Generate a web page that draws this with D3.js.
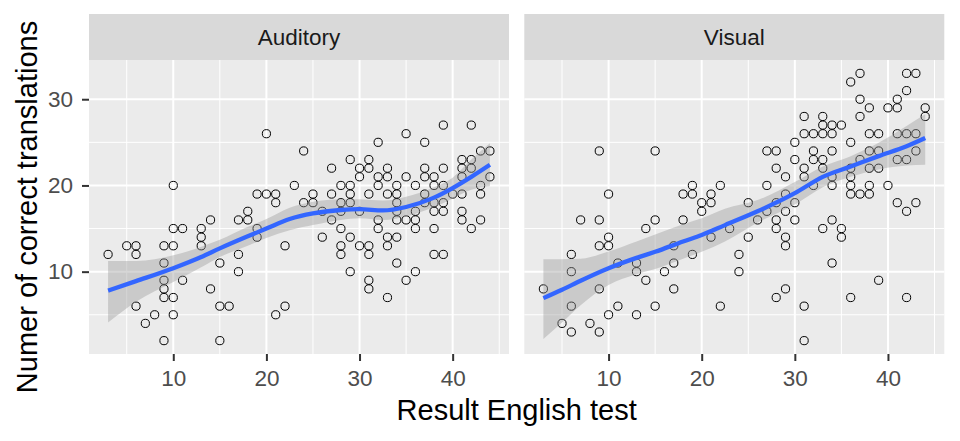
<!DOCTYPE html>
<html>
<head>
<meta charset="utf-8">
<script src="https://cdn.jsdelivr.net/npm/d3@7"></script>
<style>
  body { margin: 0; background: #fff; }
  svg { display: block; font-family: "Liberation Sans", Arial, sans-serif; }
</style>
</head>
<body>
<div id="chart"></div>
<script>
// Facet names and axis breaks
const facets = ['Auditory', 'Visual'];
const xTicks = [10, 20, 30, 40];
const xMinor = [5, 15, 25, 35, 45];
const yTicks = [10, 20, 30];
const yMinor = [5, 15, 25];

// [English test result, correct translations]
const auditoryPoints = [
  [3,12],[5,13],[6,13],[6,12],[9,13],[10,13],[10,15],[11,15],[13,15],[13,14],[13,13],[14,16],
  [17,16],[18,16],[18,17],[19,15],[19,14],[9,11],[9,9],[9,8],[9,7],[10,7],[11,9],[6,6],[8,5],
  [7,4],[10,5],[9,2],[15,2],[14,8],[15,11],[15,6],[16,6],[17,12],[17,10],[21,5],[22,6],[22,13],
  [20,26],[10,20],[19,19],[20,19],[21,19],[21,18],[23,20],
  [24,24],[32,25],[35,26],[37,25],[39,27],[42,27],[29,23],[31,23],[27,22],[30,22],[31,22],[33,22],
  [37,22],[39,22],[41,23],[42,23],[41,22],[42,22],[43,24],[44,24],[44,21],[30,21],[32,21],[33,21],
  [35,21],[37,21],[38,21],[41,21],[28,20],[29,20],[32,20],[34,20],[36,20],[38,20],[39,20],[43,20],
  [25,19],[27,19],[29,19],[31,19],[33,19],[34,19],[37,19],[40,19],[41,19],[43,19],
  [24,18],[25,18],[28,18],[29,18],[34,18],[37,18],[38,18],[39,18],
  [26,17],[28,17],[30,17],[34,17],[36,17],[38,17],[39,17],[41,17],
  [27,16],[32,16],[34,16],[35,16],[36,16],[41,16],[43,16],
  [28,15],[32,15],[36,15],[38,15],[42,15],[26,14],[29,14],[33,14],[34,14],
  [28,13],[30,13],[31,13],[33,13],[28,12],[31,12],[38,12],[39,12],
  [34,11],[29,10],[36,10],[31,9],[35,9],[31,8],[33,7]
];

const visualPoints = [
  [9,24],[15,24],[10,19],[18,19],[19,19],[19,20],[22,20],[21,19],[21,18],[20,18],[20,17],
  [7,16],[9,16],[15,16],[18,16],[14,15],[10,14],[9,13],[10,13],[6,12],[6,10],[3,8],[6,6],[5,4],
  [6,3],[8,4],[9,3],[9,8],[10,5],[11,6],[11,11],[13,11],[13,10],[14,9],[13,5],[15,6],[16,10],
  [17,13],[17,11],[17,8],[19,12],[21,14],[22,6],
  [25,18],[27,20],[27,24],[28,24],[28,22],[29,21],[30,25],[30,23],[31,28],[31,26],[31,22],[31,21],
  [32,26],[32,24],[32,23],[32,20],[33,28],[33,27],[33,26],[33,23],[33,22],[34,27],[34,26],[34,24],
  [34,21],[34,20],[35,27],[36,32],[37,33],[36,25],[36,22],[36,21],[36,20],[36,19],[37,30],[37,28],
  [37,23],[37,19],[38,29],[38,26],[38,24],[38,22],[38,20],[38,19],[39,26],[39,24],[39,22],[40,29],
  [40,20],[41,30],[41,29],[41,26],[41,23],[41,18],[42,33],[42,31],[42,26],[42,23],[42,17],[43,33],
  [43,26],[43,24],[43,18],[44,29],[44,28],[29,19],[30,18],[28,18],
  [27,17],[29,17],[23,15],[26,16],[28,16],[30,16],[28,15],[34,16],[33,15],[35,15],[35,14],[25,14],
  [29,14],[29,13],[24,12],[24,10],[34,11],[39,9],[28,7],[29,8],[31,6],[31,2],[36,7],[42,7]
];

// loess fit and confidence band, read at a few x positions
const auditorySmoothX = [3, 6, 10, 13, 15, 18, 20, 22.5, 25, 28, 30, 32.5, 35, 37.8, 40, 42, 44];
const auditoryFit     = [7.8, 8.9, 10.4, 11.7, 12.7, 14.1, 15.0, 16.1, 16.75, 17.15, 17.25, 17.1, 17.5, 18.5, 19.7, 21.0, 22.4];
const auditoryUpper   = [11.25, 11.25, 11.9, 12.9, 13.7, 15.2, 16.1, 17.4, 18.1, 18.4, 18.4, 18.25, 18.7, 19.7, 20.9, 23.0, 24.9];
const auditoryLower   = [4.1, 6.5, 8.8, 10.5, 11.7, 13.0, 13.9, 14.8, 15.4, 16.0, 16.2, 16.0, 16.4, 17.4, 18.5, 19.5, 19.9];

const visualSmoothX = [3, 5, 7, 10, 13, 15, 18, 20, 22.5, 26, 30, 33, 36, 39, 42, 44];
const visualFit     = [6.93, 7.9, 8.95, 10.4, 11.6, 12.3, 13.5, 14.25, 15.4, 17.0, 19.1, 21.0, 22.2, 23.4, 24.55, 25.5];
const visualUpper   = [11.45, 11.45, 11.5, 12.35, 13.5, 14.3, 15.5, 16.2, 17.3, 18.3, 20.4, 22.2, 23.4, 24.95, 26.9, 28.25];
const visualLower   = [2.2, 4.1, 6.1, 8.45, 9.7, 10.3, 11.5, 12.3, 13.5, 15.7, 17.8, 19.8, 21.0, 21.85, 22.3, 22.4];

const pointsByFacet = [auditoryPoints, visualPoints];
const smoothByFacet = [
  auditorySmoothX.map((x, i) => ({ x: x, fit: auditoryFit[i], lo: auditoryLower[i], hi: auditoryUpper[i] })),
  visualSmoothX.map((x, i) => ({ x: x, fit: visualFit[i], lo: visualLower[i], hi: visualUpper[i] }))
];

// layout
const width = 960, height = 441;
const dims = {
  panelLeft: [89, 524.3],
  panelW: 420,
  panelTop: 60,
  panelH: 294,
  stripTop: 14
};

const svg = d3.select('#chart').append('svg')
  .attr('width', width)
  .attr('height', height);

// scales, expanded 5% like ggplot
const allPoints = auditoryPoints.concat(visualPoints);
const xExt = d3.extent(allPoints, d => d[0]);
const xPad = (xExt[1] - xExt[0]) * 0.05;
const allY = allPoints.map(d => d[1])
  .concat(auditoryLower, auditoryUpper, visualLower, visualUpper);
const yExt = d3.extent(allY);
const yPad = (yExt[1] - yExt[0]) * 0.05;

const x = d3.scaleLinear()
  .domain([xExt[0] - xPad, xExt[1] + xPad])
  .range([0, dims.panelW]);
const y = d3.scaleLinear()
  .domain([yExt[0] - yPad, yExt[1] + yPad])
  .range([dims.panelTop + dims.panelH, dims.panelTop]);

const area = d3.area()
  .x(d => x(d.x))
  .y0(d => y(d.lo))
  .y1(d => y(d.hi))
  .curve(d3.curveMonotoneX);
const line = d3.line()
  .x(d => x(d.x))
  .y(d => y(d.fit))
  .curve(d3.curveMonotoneX);

facets.forEach(function(name, i) {
  const g = svg.append('g')
    .attr('transform', 'translate(' + dims.panelLeft[i] + ',0)');

  // strip
  g.append('rect')
    .attr('x', 0).attr('y', dims.stripTop)
    .attr('width', dims.panelW).attr('height', dims.panelTop - dims.stripTop)
    .attr('fill', '#D9D9D9');
  g.append('text')
    .attr('x', dims.panelW / 2)
    .attr('y', (dims.stripTop + dims.panelTop) / 2)
    .attr('dy', '0.35em')
    .attr('text-anchor', 'middle')
    .attr('font-size', 22.5)
    .attr('fill', '#1A1A1A')
    .text(name);

  // panel background
  g.append('rect')
    .attr('x', 0).attr('y', dims.panelTop)
    .attr('width', dims.panelW).attr('height', dims.panelH)
    .attr('fill', '#EBEBEB');

  // grid lines
  g.selectAll('.xminor').data(xMinor.filter(v => x(v) >= 0 && x(v) <= dims.panelW)).enter()
    .append('line')
    .attr('x1', d => x(d)).attr('x2', d => x(d))
    .attr('y1', dims.panelTop).attr('y2', dims.panelTop + dims.panelH)
    .attr('stroke', '#fff').attr('stroke-width', 1);
  g.selectAll('.yminor').data(yMinor).enter()
    .append('line')
    .attr('x1', 0).attr('x2', dims.panelW)
    .attr('y1', d => y(d)).attr('y2', d => y(d))
    .attr('stroke', '#fff').attr('stroke-width', 1);
  g.selectAll('.xmajor').data(xTicks).enter()
    .append('line')
    .attr('x1', d => x(d)).attr('x2', d => x(d))
    .attr('y1', dims.panelTop).attr('y2', dims.panelTop + dims.panelH)
    .attr('stroke', '#fff').attr('stroke-width', 2);
  g.selectAll('.ymajor').data(yTicks).enter()
    .append('line')
    .attr('x1', 0).attr('x2', dims.panelW)
    .attr('y1', d => y(d)).attr('y2', d => y(d))
    .attr('stroke', '#fff').attr('stroke-width', 2);

  // open circles
  g.selectAll('circle').data(pointsByFacet[i]).enter()
    .append('circle')
    .attr('cx', d => x(d[0]))
    .attr('cy', d => y(d[1]))
    .attr('r', 4.1)
    .attr('fill', 'none')
    .attr('stroke', '#000')
    .attr('stroke-width', 1);

  // confidence band, then the fit
  g.append('path')
    .datum(smoothByFacet[i])
    .attr('d', area)
    .attr('fill', '#999999')
    .attr('fill-opacity', 0.4);
  g.append('path')
    .datum(smoothByFacet[i])
    .attr('d', line)
    .attr('fill', 'none')
    .attr('stroke', '#3366FF')
    .attr('stroke-width', 4.3);

  // x axis for each panel
  const xAxis = g.append('g')
    .attr('transform', 'translate(0,' + (dims.panelTop + dims.panelH) + ')')
    .call(d3.axisBottom(x).tickValues(xTicks).tickSize(7).tickPadding(9).tickFormat(d3.format('d')));
  xAxis.select('.domain').remove();
  xAxis.selectAll('line').attr('stroke', '#333333').attr('stroke-width', 2);
  xAxis.selectAll('text')
    .attr('font-size', 22.5)
    .attr('font-family', '"Liberation Sans", Arial, sans-serif')
    .attr('fill', '#4D4D4D');

  // y axis only on the first panel
  if (i === 0) {
    const yAxis = g.append('g')
      .call(d3.axisLeft(y).tickValues(yTicks).tickSize(7).tickPadding(9).tickFormat(d3.format('d')));
    yAxis.select('.domain').remove();
    yAxis.selectAll('line').attr('stroke', '#333333').attr('stroke-width', 2);
    yAxis.selectAll('text')
      .attr('font-size', 22.5)
      .attr('font-family', '"Liberation Sans", Arial, sans-serif')
      .attr('fill', '#4D4D4D');
  }
});

// axis titles
svg.append('text')
  .attr('x', (dims.panelLeft[0] + dims.panelLeft[1] + dims.panelW) / 2)
  .attr('y', 420)
  .attr('text-anchor', 'middle')
  .attr('font-size', 29)
  .attr('fill', '#000')
  .text('Result English test');

svg.append('text')
  .attr('transform', 'translate(37,' + (dims.panelTop + dims.panelH / 2) + ') rotate(-90)')
  .attr('text-anchor', 'middle')
  .attr('font-size', 29)
  .attr('fill', '#000')
  .text('Numer of correct translations');
</script>
</body>
</html>
